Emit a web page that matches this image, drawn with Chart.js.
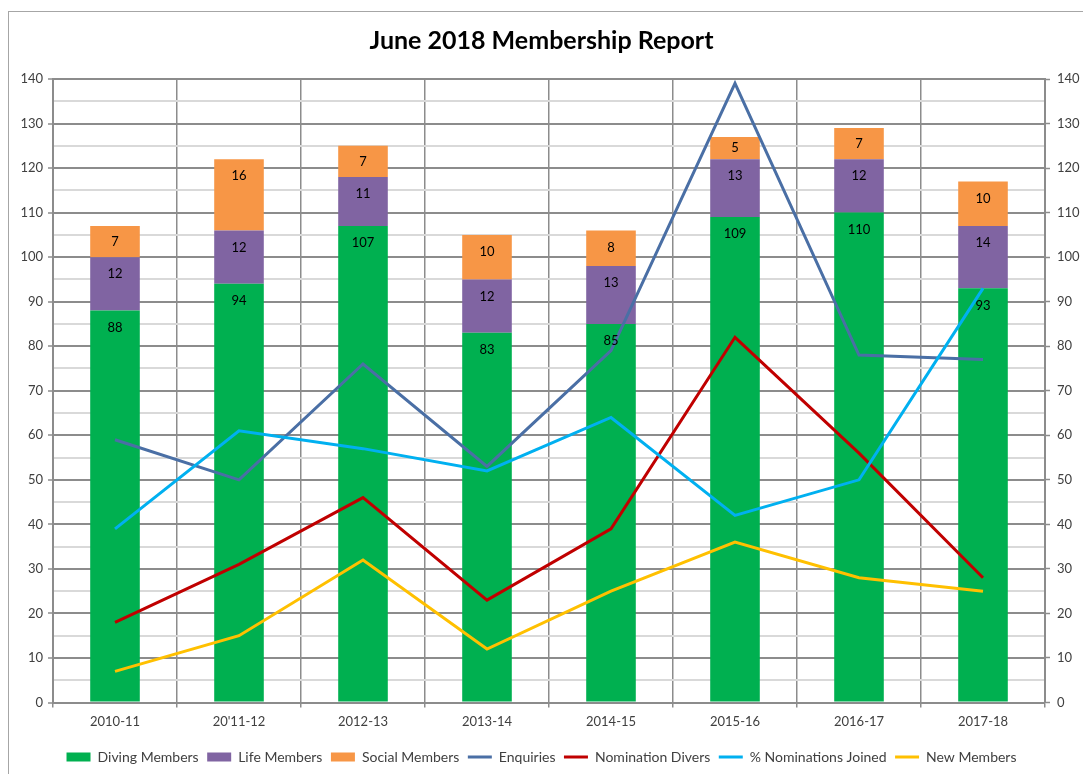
<!DOCTYPE html>
<html>
<head>
<meta charset="utf-8">
<script src="https://cdn.jsdelivr.net/npm/chart.js@4/dist/chart.umd.min.js"></script>
<style>
  html, body { margin: 0; padding: 0; background: #ffffff; }
  #wrap { width: 1083px; height: 774px; position: relative; }
</style>
</head>
<body>
<div id="wrap"><canvas id="c" width="1083" height="774"></canvas></div>
<script>
const categories = ['2010-11', "20'11-12", '2012-13', '2013-14', '2014-15', '2015-16', '2016-17', '2017-18'];
const divingMembers = [88, 94, 107, 83, 85, 109, 110, 93];
const lifeMembers = [12, 12, 11, 12, 13, 13, 12, 14];
const socialMembers = [7, 16, 7, 10, 8, 5, 7, 10];
const enquiries = [59, 50, 76, 53, 79, 139, 78, 77];
const nominationDivers = [18, 31, 46, 23, 39, 82, 56, 28];
const nominationsJoined = [39, 61, 57, 52, 64, 42, 50, 93];
const newMembers = [7, 15, 32, 12, 25, 36, 28, 25];
const yTickValues = [0, 10, 20, 30, 40, 50, 60, 70, 80, 90, 100, 110, 120, 130, 140];

const FONT = 'Lato, "Open Sans", sans-serif';
const MAJOR = '#8c8c8c';
const MINOR = '#d9d9d9';

const borderPlugin = {
  id: 'outerBorder',
  beforeDraw(chart) {
    const ctx = chart.ctx;
    ctx.save();
    ctx.strokeStyle = '#a6a6a6';
    ctx.lineWidth = 1;
    ctx.strokeRect(8.5, 11.5, 3000, 3000);
    ctx.restore();
  }
};

const barLabelPlugin = {
  id: 'barLabels',
  afterDatasetsDraw(chart) {
    const ctx = chart.ctx;
    ctx.save();
    ctx.font = '13px ' + FONT;
    ctx.fillStyle = '#000000';
    ctx.textAlign = 'center';
    ctx.textBaseline = 'middle';
    chart.data.datasets.forEach((ds, i) => {
      if (ds.type !== 'bar') return;
      const meta = chart.getDatasetMeta(i);
      meta.data.forEach((el, j) => {
        const top = Math.min(el.y, el.base);
        const h = Math.abs(el.base - el.y);
        const y = top + Math.min(17, h / 2);
        ctx.fillText(String(ds.data[j]), el.x, y);
      });
    });
    ctx.restore();
  }
};

const minorTickColor = (c) => (c.tick && c.tick.value % 10 === 0) ? MAJOR : 'rgba(0,0,0,0)';

new Chart(document.getElementById('c'), {
  data: {
    labels: categories,
    datasets: [
      { type: 'bar', label: 'Diving Members', data: divingMembers, backgroundColor: '#00b050', borderWidth: 0, stack: 'members', order: 10 },
      { type: 'bar', label: 'Life Members', data: lifeMembers, backgroundColor: '#8064a2', borderWidth: 0, stack: 'members', order: 10 },
      { type: 'bar', label: 'Social Members', data: socialMembers, backgroundColor: '#f79646', borderWidth: 0, stack: 'members', order: 10 },
      { type: 'line', label: 'Enquiries', data: enquiries, borderColor: '#4a6fa5', backgroundColor: '#4a6fa5', borderWidth: 3, pointRadius: 0, tension: 0, stack: 'l1', order: 4 },
      { type: 'line', label: 'Nomination Divers', data: nominationDivers, borderColor: '#c00000', backgroundColor: '#c00000', borderWidth: 3, pointRadius: 0, tension: 0, stack: 'l2', order: 3 },
      { type: 'line', label: '% Nominations Joined', data: nominationsJoined, borderColor: '#00b0f0', backgroundColor: '#00b0f0', borderWidth: 3, pointRadius: 0, tension: 0, stack: 'l3', order: 2 },
      { type: 'line', label: 'New Members', data: newMembers, borderColor: '#ffc000', backgroundColor: '#ffc000', borderWidth: 3, pointRadius: 0, tension: 0, stack: 'l4', order: 1 }
    ]
  },
  options: {
    responsive: false,
    animation: false,
    layout: { padding: 0 },
    datasets: { bar: { categoryPercentage: 1, barPercentage: 0.4 } },
    plugins: {
      title: {
        display: true,
        text: 'June 2018 Membership Report',
        color: '#000000',
        font: { family: FONT, size: 25, weight: 'bold' },
        padding: { top: 26, bottom: 23 }
      },
      legend: {
        position: 'bottom',
        labels: {
          color: '#404040',
          font: { family: FONT, size: 14 },
          padding: 8.5,
          usePointStyle: true,
          pointStyleWidth: 24,
          boxHeight: 9,
          sort: (a, b) => a.datasetIndex - b.datasetIndex,
          generateLabels(chart) {
            const items = Chart.defaults.plugins.legend.labels.generateLabels(chart);
            items.forEach(it => {
              const ds = chart.data.datasets[it.datasetIndex];
              if (ds.type === 'bar') {
                it.pointStyle = 'rect';
                it.fillStyle = ds.backgroundColor;
                it.strokeStyle = ds.backgroundColor;
                it.lineWidth = 0;
              } else {
                it.pointStyle = 'line';
                it.strokeStyle = ds.borderColor;
                it.fillStyle = ds.borderColor;
                it.lineWidth = 3;
              }
            });
            return items;
          }
        }
      },
      tooltip: { enabled: false }
    },
    scales: {
      x: {
        stacked: true,
        offset: true,
        grid: { color: MAJOR, lineWidth: 1.5, offset: true, tickLength: 5, tickColor: MAJOR },
        border: { color: MAJOR, width: 2 },
        ticks: { color: '#404040', font: { family: FONT, size: 13 }, padding: 7, maxRotation: 0 },
        afterFit(s) { s.height = 39; }
      },
      y: {
        stacked: true,
        position: 'left',
        min: 0, max: 140,
        grid: {
          color: (c) => (c.tick && c.tick.value % 10 === 0) ? MAJOR : MINOR,
          lineWidth: 2,
          tickLength: 5,
          tickColor: minorTickColor,
          tickWidth: 1.5
        },
        border: { color: MAJOR, width: 2 },
        ticks: {
          stepSize: 5,
          color: '#404040',
          font: { family: FONT, size: 13 },
          padding: 5,
          callback: (v) => yTickValues.includes(v) ? String(v) : ''
        },
        afterFit(s) { s.width = 53; }
      },
      y2: {
        position: 'right',
        min: 0, max: 140,
        grid: { drawOnChartArea: false, tickLength: 5, tickColor: minorTickColor, tickWidth: 1.5, color: MAJOR },
        border: { color: MAJOR, width: 2 },
        ticks: {
          stepSize: 5,
          color: '#404040',
          font: { family: FONT, size: 13 },
          padding: 7,
          callback: (v) => yTickValues.includes(v) ? String(v) : ''
        },
        afterFit(s) { s.width = 38; }
      }
    }
  },
  plugins: [borderPlugin, barLabelPlugin]
});
</script>
</body>
</html>
